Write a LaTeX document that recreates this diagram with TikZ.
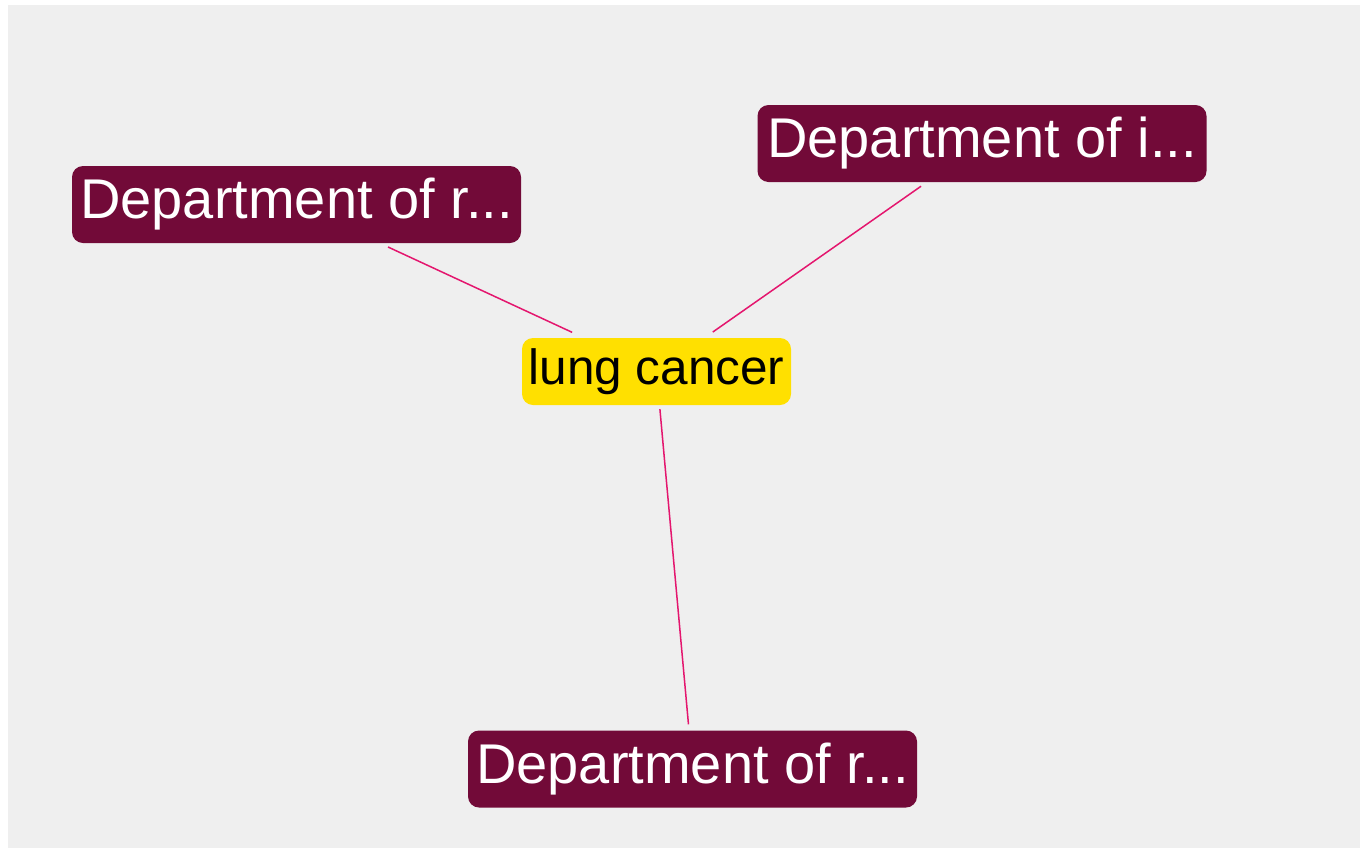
\documentclass[tikz,border=0pt]{standalone}
\usepackage{fontspec}
\setmainfont{Liberation Sans}
\definecolor{bggray}{RGB}{239,239,239}
\definecolor{maroon}{RGB}{114,10,56}
\definecolor{gold}{RGB}{255,224,0}
\definecolor{linkpink}{RGB}{228,22,110}
\tikzset{
  dept/.style={fill=maroon, text=white, rounded corners=11pt, inner sep=0pt,
    minimum width=449pt, minimum height=77pt,
    font=\fontsize{56}{62}\selectfont},
  topic/.style={fill=gold, text=black, rounded corners=11pt, inner sep=0pt,
    minimum width=269pt, minimum height=67pt,
    font=\fontsize{49.5}{55}\selectfont},
  link/.style={draw=linkpink, line width=1.5pt}
}
\begin{document}
\begin{tikzpicture}[x=1pt,y=-1pt]
\useasboundingbox (0,0) rectangle (1362,849);
\fill[white] (0,0) rectangle (1362,849);
\fill[bggray] (8,5) rectangle (1360,848);
\node[topic] (lc) at (656.5,371.5) {lung cancer};
\node[dept] (tl) at (296.5,204.5) {Department of r...};
\node[dept] (tr) at (982,143.5) {Department of i...};
\node[dept] (bt) at (692.5,769) {Department of r...};
\draw[link, shorten <=9pt, shorten >=13pt] (tl) -- (lc);
\draw[link, shorten <=7pt, shorten >=10pt] (tr) -- (lc);
\draw[link, shorten <=4pt, shorten >=6pt] (lc) -- (bt);
\end{tikzpicture}
\end{document}
